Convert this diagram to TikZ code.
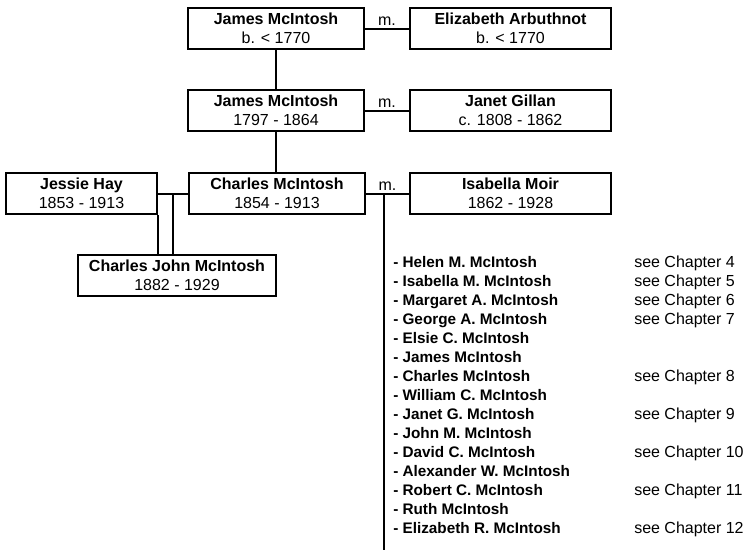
\documentclass[tikz,border=0pt]{standalone}
\usepackage{fontspec}
\usepackage{array}
\setmainfont{Liberation Sans}
\usetikzlibrary{positioning,calc}

\begin{document}
\begin{tikzpicture}[x=1pt, y=-1pt, node distance=40pt, auto]
        \tikzstyle{person} = [rectangle, draw, line width=2pt, text centered, align=center,
        inner sep=0pt, minimum width=176pt, minimum height=41pt, font=\fontsize{16}{19}\selectfont]
        \tikzset{line/.style={draw, line width=2pt, color=black}}
        \tikzset{wed/.style={above, inner sep=2.5pt, font=\fontsize{16}{19}\selectfont}}
        \tikzset{kids/.style={inner sep=0pt, font=\fontsize{15.3}{19}\selectfont}}

        \useasboundingbox (0,0) rectangle (748,550);

        \node [person] (J1) at (276,28.5) {\textbf{James McIntosh}\\b. < 1770};
        \node [person, minimum width=201pt, right=44pt of J1] (EA) {\textbf{Elizabeth Arbuthnot}\\b. < 1770};
        \node [person, below=39pt of J1] (J2) {\textbf{James McIntosh}\\1797 - 1864};
        \node [person, minimum width=201pt, right=44pt of J2] (JG) {\textbf{Janet Gillan}\\c. 1808 - 1862};
        \node [person, below=40pt of J2, xshift=1pt] (CM) {\textbf{Charles McIntosh}\\1854 - 1913};
        \node [person, minimum width=201pt, right=43pt of CM] (IM) {\textbf{Isabella Moir}\\1862 - 1928};
        \node [person, minimum width=151pt, left=30pt of CM] (JH) {\textbf{Jessie Hay}\\1853 - 1913};
        \node [person, minimum width=198pt, below=39pt of JH.south east, xshift=19pt] (CJ) {\textbf{Charles John McIntosh}\\1882 - 1929};

        \path [line] (J1) -- node [wed] {m.} (EA);
        \path [line] (J1) -- (J2);
        \path [line] (J2) -- node [wed] {m.} (JG);
        \path [line] (J2) -- (J2 |- CM.north);
        \path [line] (CM) -- node [wed] {m.} (IM);
        \path [line] (JH) -- (CM);

        \coordinate (JHmid) at ($(JH.east)!0.5!(CM.west)$);
        \path [line] (JHmid) -- (JHmid |- CJ.north);
        \path [line] (JH.south east) -- (JH.south east |- CJ.north);

        \coordinate (drop) at ($(CM.east)!0.42!(IM.west)$);
        \coordinate [below=356pt of drop] (dropend);
        \path [line] (drop) -- (dropend);

        \node [kids, below right=60pt and 9pt of drop] (children) {%
        \begin{tabular}{@{}p{241pt}@{}>{\fontsize{16}{19}\selectfont}l@{}}
        \textbf{- Helen M. McIntosh} & see Chapter 4\\
        \textbf{- Isabella M. McIntosh} & see Chapter 5\\
        \textbf{- Margaret A. McIntosh} & see Chapter 6\\
        \textbf{- George A. McIntosh} & see Chapter 7\\
        \textbf{- Elsie C. McIntosh} & \\
        \textbf{- James McIntosh} & \\
        \textbf{- Charles McIntosh} & see Chapter 8\\
        \textbf{- William C. McIntosh} & \\
        \textbf{- Janet G. McIntosh} & see Chapter 9\\
        \textbf{- John M. McIntosh} & \\
        \textbf{- David C. McIntosh} & see Chapter 10\\
        \textbf{- Alexander W. McIntosh} & \\
        \textbf{- Robert C. McIntosh} & see Chapter 11\\
        \textbf{- Ruth McIntosh} & \\
        \textbf{- Elizabeth R. McIntosh} & see Chapter 12
        \end{tabular}};

    \end{tikzpicture}
\end{document}
